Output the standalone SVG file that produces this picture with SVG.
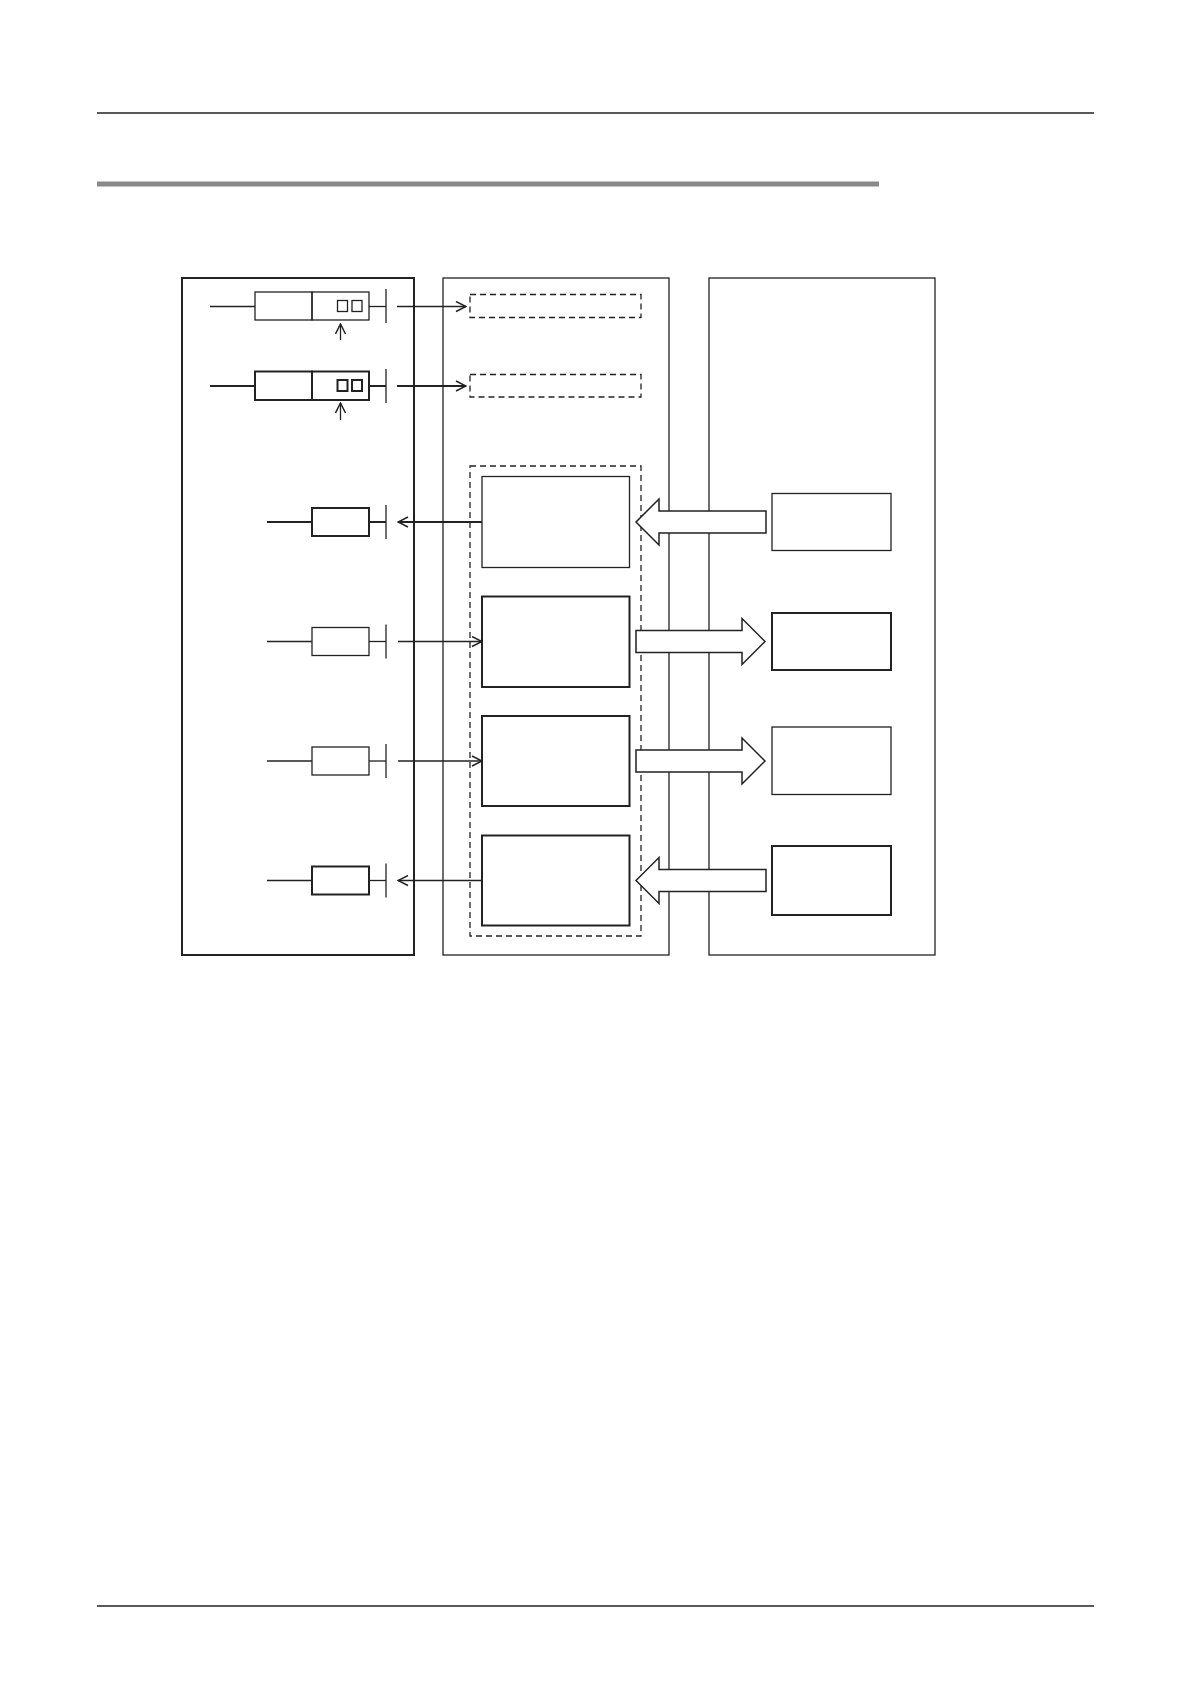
<svg xmlns="http://www.w3.org/2000/svg" width="1190" height="1684" viewBox="0 0 1190 1684">
<style>
.b{fill:#fff;stroke:#222;stroke-width:2}
.t{fill:none;stroke:#222;stroke-width:1.3}
.d{fill:none;stroke:#222;stroke-width:1.3;stroke-dasharray:6,4}
.ln{stroke:#222;stroke-width:1.3;fill:none}
.lnb{stroke:#222;stroke-width:2;fill:none}
.ah{fill:none;stroke:#222;stroke-width:1.5}
.blk{fill:#fff;stroke:#222;stroke-width:1.5}
</style>
<defs>
<marker id="a" markerWidth="12" markerHeight="12" refX="11" refY="6" orient="auto" markerUnits="userSpaceOnUse"><path d="M1,1 L11,6 L1,11" class="ah"/></marker>
</defs>
<rect width="1190" height="1684" fill="#fff"/>
<line x1="97" y1="113" x2="1094" y2="113" stroke="#222" stroke-width="1.3"/>
<line x1="97" y1="184" x2="879" y2="184" stroke="#888" stroke-width="5"/>
<line x1="97" y1="1606" x2="1094" y2="1606" stroke="#222" stroke-width="1.5"/>

<g id="left-panel"><rect x="182" y="278" width="232" height="677" class="b"/></g>
<g id="middle-panel"><rect x="443" y="278" width="226" height="677" class="t"/></g>
<g id="right-panel"><rect x="709" y="278" width="226" height="677" class="t"/></g>

<g id="reg1">
<rect x="255" y="292" width="57" height="28" class="t"/>
<rect x="312" y="292" width="57" height="28" class="t"/>
<rect x="337.5" y="300.5" width="10" height="11" class="t"/>
<rect x="352" y="300.5" width="10" height="11" class="t"/>
</g>
<g id="reg2">
<rect x="255" y="371.5" width="57" height="28.5" class="b"/>
<rect x="312" y="371.5" width="57" height="28.5" class="b"/>
<rect x="337.5" y="380" width="10" height="11" class="b"/>
<rect x="352" y="380" width="10" height="11" class="b"/>
</g>
<g id="dash1"><rect x="470" y="294.5" width="171" height="23" class="d" stroke-width="2"/></g>
<g id="dash2"><rect x="470" y="374.5" width="171" height="22.5" class="d"/></g>
<g id="group"><rect x="470" y="466" width="171" height="470" class="d"/></g>

<g id="io1"><rect x="312" y="508" width="57" height="28" class="b"/></g>
<g id="io2"><rect x="312" y="627.5" width="57" height="28" class="t"/></g>
<g id="io3"><rect x="312" y="747" width="57" height="28" class="t"/></g>
<g id="io4"><rect x="312" y="866.5" width="57" height="28" class="b"/></g>

<g id="m1"><rect x="482" y="476.5" width="147.5" height="91" class="t"/></g>
<g id="m2"><rect x="482" y="596.5" width="147.5" height="90.5" class="b"/></g>
<g id="m3"><rect x="482" y="716" width="147.5" height="90" class="b"/></g>
<g id="m4"><rect x="482" y="835.5" width="147.5" height="90" class="b"/></g>

<g id="r1"><rect x="772" y="493.5" width="119" height="57" class="t"/></g>
<g id="r2"><rect x="772" y="613" width="119" height="57" class="b"/></g>
<g id="r3"><rect x="772" y="727" width="119" height="67.5" class="t"/></g>
<g id="r4"><rect x="772" y="846" width="119" height="69" class="b"/></g>

<g id="connectors">
<line x1="210" y1="306.5" x2="255" y2="306.5" class="ln"/>
<line x1="369" y1="306.5" x2="386" y2="306.5" class="ln"/>
<line x1="386" y1="289" x2="386" y2="323" class="ln"/>
<line x1="397" y1="306.5" x2="466" y2="306.5" class="ln" marker-end="url(#a)"/>
<line x1="340.5" y1="340" x2="340.5" y2="324" class="ln" marker-end="url(#a)"/>

<line x1="210" y1="386" x2="255" y2="386" class="lnb"/>
<line x1="369" y1="386" x2="386" y2="386" class="lnb"/>
<line x1="386" y1="369" x2="386" y2="403" class="ln"/>
<line x1="397" y1="386" x2="466" y2="386" class="lnb" marker-end="url(#a)"/>
<line x1="340.5" y1="420" x2="340.5" y2="403" class="ln" marker-end="url(#a)"/>

<line x1="267" y1="522" x2="312" y2="522" class="lnb"/>
<line x1="369" y1="522" x2="386" y2="522" class="lnb"/>
<line x1="386" y1="505" x2="386" y2="539" class="ln"/>
<line x1="482" y1="522" x2="398" y2="522" class="lnb" marker-end="url(#a)"/>

<line x1="267" y1="641.5" x2="312" y2="641.5" class="ln"/>
<line x1="369" y1="641.5" x2="386" y2="641.5" class="ln"/>
<line x1="386" y1="624.5" x2="386" y2="658.5" class="ln"/>
<line x1="398" y1="641.5" x2="482" y2="641.5" class="ln" marker-end="url(#a)"/>

<line x1="267" y1="761" x2="312" y2="761" class="ln"/>
<line x1="369" y1="761" x2="386" y2="761" class="ln"/>
<line x1="386" y1="744" x2="386" y2="778" class="ln"/>
<line x1="398" y1="761" x2="482" y2="761" class="ln" marker-end="url(#a)"/>

<line x1="267" y1="880.5" x2="312" y2="880.5" class="ln"/>
<line x1="369" y1="880.5" x2="386" y2="880.5" class="ln"/>
<line x1="386" y1="863.5" x2="386" y2="897.5" class="ln"/>
<line x1="482" y1="880.5" x2="398" y2="880.5" class="ln" marker-end="url(#a)"/>

<path d="M766,511 L659,511 L659,499 L636,522 L659,545 L659,533 L766,533 Z" class="blk"/>
<path d="M636,630.5 L742,630.5 L742,618.5 L765,641.5 L742,664.5 L742,652.5 L636,652.5 Z" class="blk"/>
<path d="M636,750 L742,750 L742,738 L765,761 L742,784 L742,772 L636,772 Z" class="blk"/>
<path d="M766,869.5 L659,869.5 L659,857.5 L636,880.5 L659,903.5 L659,891.5 L766,891.5 Z" class="blk"/>
</g>
</svg>
